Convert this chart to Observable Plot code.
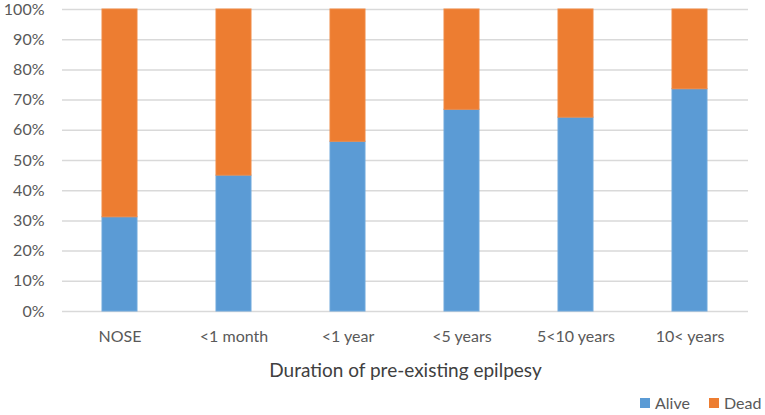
<!DOCTYPE html>
<html>
<head>
<meta charset="utf-8">
<script src="https://cdn.jsdelivr.net/npm/d3@7"></script>
<script src="https://cdn.jsdelivr.net/npm/@observablehq/plot@0.6"></script>
<style>
  html, body { margin: 0; padding: 0; background: #fff; }
  body { width: 765px; height: 415px; overflow: hidden; font-family: Lato, "Open Sans", sans-serif; }
  #legend { position: relative; height: 27px; }
  .li { position: absolute; top: 5px; display: flex; align-items: center; font-size: 16px; color: #595959; }
  .sw { width: 10px; height: 10px; margin-right: 5px; }
</style>
</head>
<body>
<div id="chart"></div>
<div id="legend"></div>
<script>
const categories = ["NOSE", "<1 month", "<1 year", "<5 years", "5<10 years", "10< years"];
const alive = [0.312, 0.450, 0.562, 0.668, 0.642, 0.736];
const dead = [0.688, 0.550, 0.438, 0.332, 0.358, 0.264];
const series = ["Alive", "Dead"];
const colors = ["#5B9BD5", "#ED7D31"];
const yTicks = [0, 0.1, 0.2, 0.3, 0.4, 0.5, 0.6, 0.7, 0.8, 0.9, 1.0];
const xTitle = "Duration of pre-existing epilpesy";

const rows = [];
categories.forEach((c, i) => {
  rows.push({category: c, series: "Alive", value: alive[i]});
  rows.push({category: c, series: "Dead", value: dead[i]});
});

const chart = Plot.plot({
  width: 765,
  height: 388,
  marginTop: 9,
  marginBottom: 77,
  marginLeft: 62,
  marginRight: 17,
  style: {fontFamily: "Lato, 'Open Sans', sans-serif", fontSize: "16px", color: "#595959", background: "#fff"},
  x: {domain: categories, paddingInner: 0.69, paddingOuter: 0.345, label: null},
  y: {domain: [0, 1], label: null},
  color: {domain: series, range: colors},
  marks: [
    Plot.gridY(yTicks, {stroke: "#d9d9d9", strokeOpacity: 1, strokeWidth: 1.5}),
    Plot.barY(rows, {x: "category", y: "value", fill: "series", stroke: d => d.series === "Alive" ? "#6FA8DC" : "#F08A45", strokeWidth: 1}),
    Plot.axisY({ticks: yTicks, tickFormat: d3.format(".0%"), tickSize: 0, tickPadding: 18, fill: "#595959", fontSize: 16, label: null}),
    Plot.axisX({tickSize: 0, tickPadding: 19, fill: "#595959", fontSize: 16, label: null}),
    Plot.text([xTitle], {frameAnchor: "bottom", dy: 59, lineAnchor: "middle", fontSize: 19, fill: "#404040"})
  ]
});
document.getElementById("chart").appendChild(chart);

const legend = document.getElementById("legend");
const lx = [640, 709];
series.forEach((s, i) => {
  const item = document.createElement("div");
  item.className = "li";
  item.style.left = lx[i] + "px";
  item.innerHTML = `<span class="sw" style="background:${colors[i]}"></span><span>${s}</span>`;
  legend.appendChild(item);
});
</script>
</body>
</html>
